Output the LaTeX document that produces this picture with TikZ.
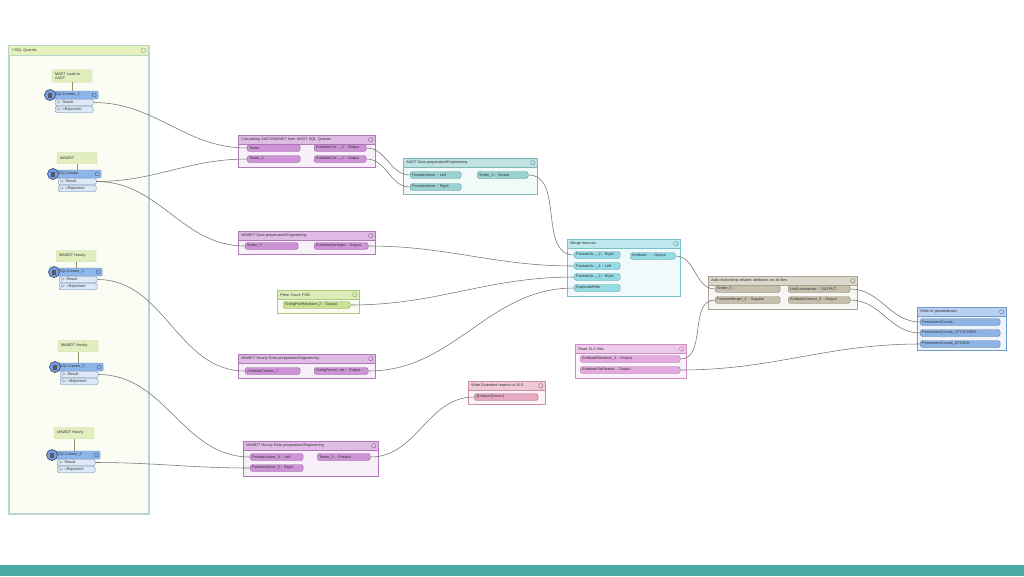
\documentclass[tikz,border=0pt]{standalone}
\usepackage{amssymb}
\usepackage{fontspec}
\setmainfont{Liberation Sans}
\usepackage{xcolor}
\usepackage{tikz}
\usetikzlibrary{positioning, arrows.meta}

\definecolor{purp}{HTML}{C784D1}
\definecolor{aqua}{HTML}{8CCBCB}
\definecolor{lime}{HTML}{C2DE82}
\definecolor{rose}{HTML}{E49DBA}
\definecolor{cyanm}{HTML}{86D6E1}
\definecolor{orch}{HTML}{E09EDB}
\definecolor{taupe}{HTML}{BDB6A0}
\definecolor{skyb}{HTML}{7FAAE2}
\definecolor{sqlbody}{HTML}{FBFCF3}
\definecolor{sqledge}{HTML}{B9D5CE}
\definecolor{sqlhead}{HTML}{E6F1BC}
\definecolor{notefill}{HTML}{E2EEC0}
\definecolor{noteedge}{HTML}{C4DA93}
\definecolor{creator}{HTML}{8DB7EA}
\definecolor{portblue}{HTML}{DCE8F6}
\definecolor{band}{HTML}{4AA9A0}
\newcommand\pfont{\fontsize{3.8}{4.4}\selectfont}

\begin{document}
\begin{tikzpicture}[x=1pt, y=-1pt,
    every node/.style={font=\pfont, inner sep=0pt, text=black!80},
    bmk/.style={draw=#1!90!black, fill=#1!12!white, line width=0.5pt, anchor=north west},
    bhead/.style={draw=#1!90!black, fill=#1!55!white, line width=0.5pt, anchor=north west,
        minimum height=9pt, inner xsep=3pt, align=left,
        path picture={\draw[#1!60!black, line width=0.3pt]
            ([xshift=-4.5pt]path picture bounding box.east) circle (2.2pt);}},
    port/.style={draw=#1!75!black, fill=#1!88!white, rounded corners=2.5pt, line width=0.4pt,
        minimum height=7pt, inner xsep=2pt, anchor=west, align=left},
    note/.style={draw=noteedge, fill=notefill, rounded corners=1pt, inner xsep=3pt, inner ysep=2.5pt,
        text width=34pt, minimum height=11pt, align=left, line width=0.4pt},
    sqlc/.style={draw=creator!75!black, fill=creator, rounded corners=2pt, minimum height=8pt,
        text width=41pt, inner xsep=2pt, anchor=west, align=left, line width=0.4pt,
        path picture={\draw[creator!40!black, line width=0.3pt]
            ([xshift=-4pt]path picture bounding box.east) circle (2pt);}},
    sqlport/.style={draw=creator!75!black, fill=portblue, rounded corners=1.5pt, minimum height=6.5pt,
        text width=34pt, inner xsep=2pt, anchor=west, align=left, line width=0.4pt},
    link/.style={draw=black!55, line width=0.55pt, out=0, in=180}
]
    \useasboundingbox (0,0) rectangle (1024,576);
    \fill[white] (0,0) rectangle (1024,576);
    \fill[band] (0,565) rectangle (1024,576);

    % SQL Queries bookmark
    \node[draw=sqledge, fill=sqlbody, line width=1.6pt, anchor=north west,
        minimum width=140pt, minimum height=468pt] (sql) at (8,45) {};
    \node[draw=sqledge, fill=sqlhead, line width=0.6pt, anchor=north west, minimum height=10pt,
        text width=134pt, inner xsep=3pt, align=left,
        path picture={\draw[black!45, line width=0.3pt]
            ([xshift=-5pt]path picture bounding box.east) circle (2.4pt);}]
        (sql-t) at (8,45) {$\triangledown$SQL Queries};

    \foreach \id/\txt/\cx/\cy/\nx/\ny/\lbl in {
        2/SQLCreator\_2/53/95/72/76/{MADT Load to\\AADT},
        1/SQLCreator/56/174/77/158/{MAWDT},
        3/SQLCreator\_3/57/272/76/256/{MAWDT Hourly},
        5/SQLCreator\_5/58/367/78/346/{MAWDT Hourly},
        6/SQLCreator\_6/55/455/74/433/{MAWDT Hourly}} {
        \node[note] (note\id) at (\nx,\ny) {\lbl};
        \node[sqlc] (sq\id) at (\cx,\cy) {\txt};
        \draw[noteedge!70!black, line width=0.4pt] (note\id.south) -- (note\id.south |- sq\id.north);
        \node[circle, draw=creator!45!black, fill=creator!85!blue, minimum size=11pt,
            line width=0.7pt] (ic\id) at (\cx-3,\cy) {};
        \fill[black!65] (\cx-5.5,\cy-2.5) rectangle (\cx-1,\cy+2.5);
        \node[sqlport] (res\id) at (\cx+2,\cy+7.5) {$\rhd$ Result};
        \node[sqlport] (rej\id) at (\cx+2,\cy+14.5) {$\rhd$ <Rejected>};
    }

    % Calculating AADT/MAWDT
    \node[bmk=purp, minimum width=137pt, minimum height=32pt] (calc) at (238,135) {};
    \node[bhead=purp, text width=131pt] (calc-t) at (238,135) {Calculating AADT/MAWDT from MADT SQL Queries};
    \node[port=purp, text width=49pt] (tester) at (247,148) {Tester};
    \node[port=purp, text width=49pt] (tester2) at (247,159) {Tester\_2};
    \node[port=purp, text width=48pt] (acr2) at (314,148) {AttributeCre...\_2 : Output};
    \node[port=purp, text width=48pt] (acr1) at (314,159) {AttributeCre...\_1 : Output};

    % AADT
    \node[bmk=aqua, minimum width=134pt, minimum height=36pt] (aadt) at (403,158) {};
    \node[bhead=aqua, text width=128pt] (aadt-t) at (403,158) {AADT Data preparation/Engineering};
    \node[port=aqua, text width=47pt] (fjl) at (410,175) {FeatureJoiner : Left};
    \node[port=aqua, text width=47pt] (fjr) at (410,187) {FeatureJoiner : Right};
    \node[port=aqua, text width=47pt] (srt2) at (477,175) {Sorter\_2 : Sorted};

    % MAWDT
    \node[bmk=purp, minimum width=137pt, minimum height=23pt] (mawdt) at (238,231) {};
    \node[bhead=purp, text width=131pt] (mawdt-t) at (238,231) {MAWDT Data preparation/Engineering};
    \node[port=purp, text width=49pt] (srt3) at (245,246) {Sorter\_3};
    \node[port=purp, text width=50pt] (attmgr) at (314,246) {AttributeManager : Output};

    % Perm Count
    \node[bmk=lime, minimum width=82pt, minimum height=23pt] (pcount) at (277,290) {};
    \node[bhead=lime, text width=76pt] (pcount-t) at (277,290) {Perm Count PGB};
    \node[port=lime, text width=63pt] (spr) at (283,305) {StringPairReplacer\_2 : Output};

    % MAWDT Hourly
    \node[bmk=purp, minimum width=137pt, minimum height=24pt] (hourly) at (238,354) {};
    \node[bhead=purp, text width=131pt] (hourly-t) at (238,354) {MAWDT Hourly Data preparation/Engineering};
    \node[port=purp, text width=51pt] (acr7) at (245,371) {AttributeCreator\_7};
    \node[port=purp, text width=50pt] (sfmt) at (314,371) {StringForma...ter : Output};

    % MAWDT Hourly 2
    \node[bmk=purp, minimum width=135pt, minimum height=35pt] (hourlyb) at (243,441) {};
    \node[bhead=purp, text width=129pt] (hourlyb-t) at (243,441) {MAWDT Hourly Data preparation/Engineering};
    \node[port=purp, text width=49pt] (fj5l) at (250,457) {FeatureJoiner\_5 : Left};
    \node[port=purp, text width=49pt] (fj5r) at (250,468) {FeatureJoiner\_5 : Right};
    \node[port=purp, text width=49pt] (tst3) at (317,457) {Tester\_3 : Passed};

    % Write Extended reports
    \node[bmk=rose, minimum width=77pt, minimum height=23pt] (xlsout) at (468,381) {};
    \node[bhead=rose, text width=71pt] (xlsout-t) at (468,381) {Write Extended reports to XLS};
    \node[port=rose, text width=60pt] (val) at (474,397) {@Value(Screen)};

    % Merge features
    \node[bmk=cyanm, minimum width=113pt, minimum height=57pt] (merge) at (567,239) {};
    \node[bhead=cyanm, text width=107pt] (merge-t) at (567,239) {Merge features};
    \node[port=cyanm, text width=42pt] (mfj2) at (574,255) {FeatureJo...\_2 : Right};
    \node[port=cyanm, text width=42pt] (mfj1) at (574,266) {FeatureJo...\_1 : Left};
    \node[port=cyanm, text width=42pt] (mfj4) at (574,277) {FeatureJo...\_4 : Right};
    \node[port=cyanm, text width=42pt] (dup) at (574,288) {DuplicateFilter};
    \node[port=cyanm, text width=41pt] (mout) at (630,256) {Attribute... : Output};

    % Read XLS files
    \node[bmk=orch, minimum width=111pt, minimum height=34pt] (readxls) at (575,344) {};
    \node[bhead=orch, text width=105pt] (readxls-t) at (575,344) {Read XLS files};
    \node[port=orch, text width=96pt] (ren3) at (580,359) {AttributeRenamer\_3 : Output};
    \node[port=orch, text width=96pt] (afr) at (580,370) {AttributeFileReader : Output};

    % Add relationship
    \node[bmk=taupe, minimum width=149pt, minimum height=33pt] (addrel) at (708,276) {};
    \node[bhead=taupe, text width=143pt] (addrel-t) at (708,276) {Add relationship related attributes on all files};
    \node[port=taupe, text width=61pt] (srt5) at (715,289) {Sorter\_5};
    \node[port=taupe, text width=61pt] (fm2) at (715,300) {FeatureMerger\_2 : Supplier};
    \node[port=taupe, text width=58pt] (lsum) at (788,289) {ListSummarizer : OUTPUT};
    \node[port=taupe, text width=58pt] (acr9) at (788,300) {AttributeCreator\_9 : Output};

    % Write to geodatabase
    \node[bmk=skyb, minimum width=89pt, minimum height=43pt] (geodb) at (917,307) {};
    \node[bhead=skyb, text width=83pt] (geodb-t) at (917,307) {Write to geodatabase};
    \node[port=skyb, text width=76pt] (pc) at (920,322) {PermanentCounts};
    \node[port=skyb, text width=76pt] (pcrel) at (920,333) {PermanentCounts\_ATTACHREL};
    \node[port=skyb, text width=76pt] (pcatt) at (920,344) {PermanentCounts\_ATTACH};

    \path[link]
        (res2.east) edge (tester.west)
        (res1.east) edge (tester2.west)
        (res1.east) edge (srt3.west)
        (res3.east) edge (acr7.west)
        (res5.east) edge (fj5l.west)
        (res6.east) edge (fj5r.west)
        (acr2.east) edge (fjl.west)
        (acr1.east) edge (fjr.west)
        (srt2.east) edge (mfj2.west)
        (attmgr.east) edge (mfj1.west)
        (spr.east) edge (mfj4.west)
        (sfmt.east) edge (dup.west)
        (tst3.east) edge (val.west)
        (mout.east) edge (srt5.west)
        (ren3.east) edge (fm2.west)
        (afr.east) edge (pcatt.west)
        (lsum.east) edge (pc.west)
        (acr9.east) edge (pcrel.west);
\end{tikzpicture}
\end{document}
